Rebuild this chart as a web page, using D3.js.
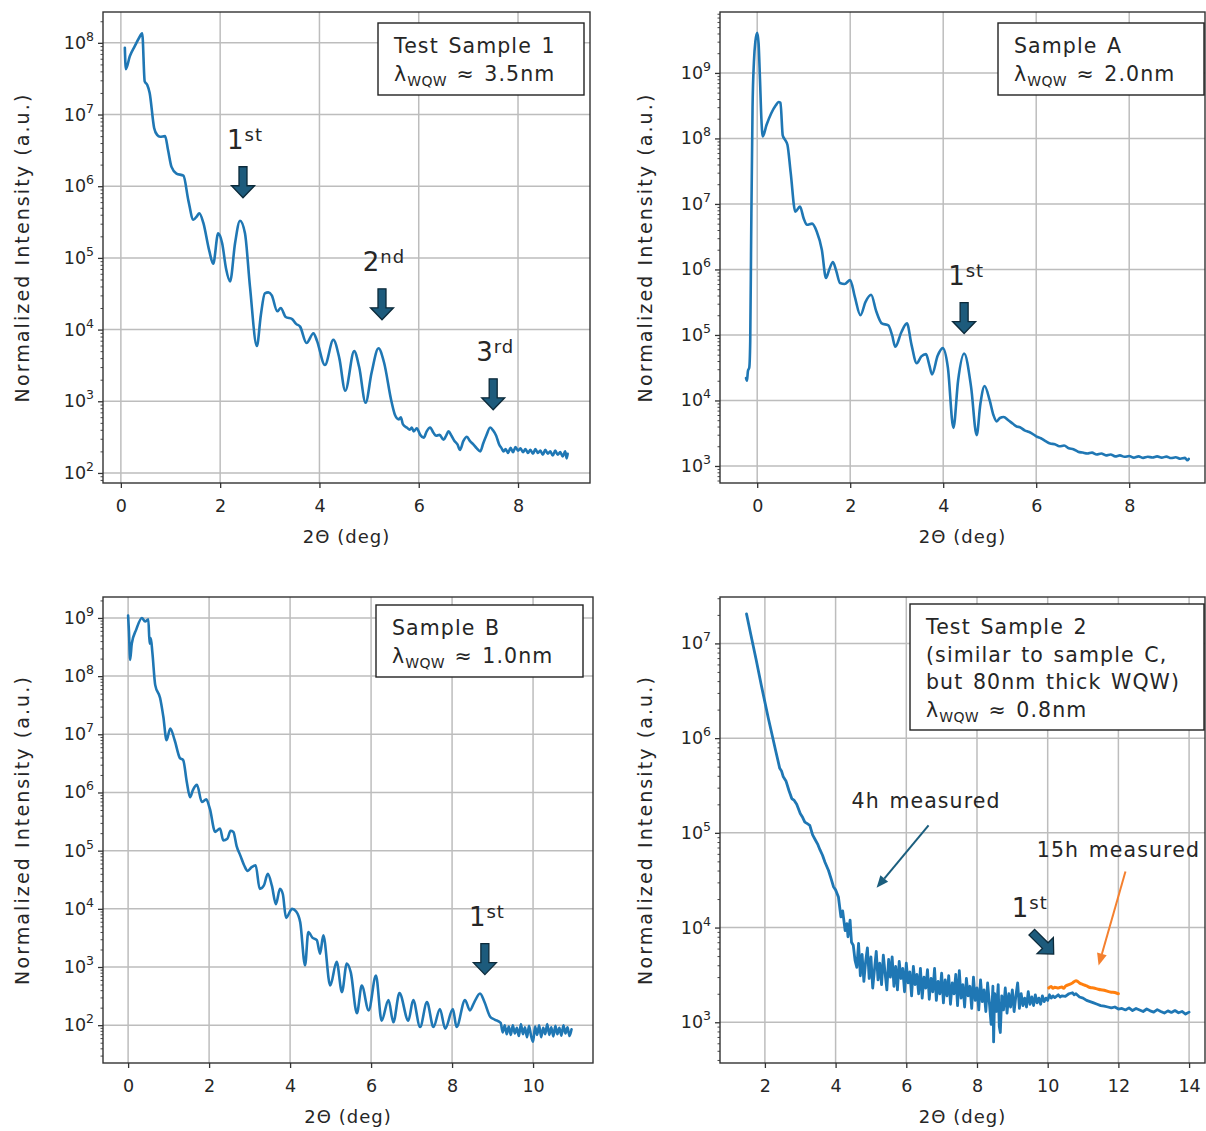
<!DOCTYPE html>
<html><head><meta charset="utf-8">
<script src="https://cdn.jsdelivr.net/npm/d3@7"></script>
<style>
body{margin:0;background:#fff}
svg{display:block}
text{font-family:"DejaVu Sans",sans-serif;fill:#262626}
</style></head>
<body><svg id="c" width="1206" height="1131"></svg>
<script>
// ---------------- DATA ----------------
// 2Θ (deg), normalized intensity (a.u.)
const testSample1 = [
[0.08,8.5e7],[0.10,4.3e7],[0.18,6.5e7],[0.28,9e7],[0.36,1.15e8],[0.43,1.36e8],[0.48,2.9e7],[0.53,2.6e7],[0.58,2.0e7],
[0.67,6.5e6],[0.73,5.2e6],[0.79,4.9e6],[0.89,5.0e6],[0.95,3.2e6],[1.02,1.86e6],[1.12,1.5e6],[1.26,1.4e6],[1.36,6.3e5],
[1.46,3.4e5],[1.53,3.8e5],[1.58,4.2e5],[1.66,3.1e5],[1.78,1.26e5],[1.86,8.3e4],[1.96,2.2e5],[2.04,1.6e5],[2.12,7e4],
[2.2,4.7e4],[2.3,1.6e5],[2.4,3.3e5],[2.5,2.2e5],[2.6,4e4],[2.74,5.9e3],[2.82,1.6e4],[2.9,3.2e4],[2.97,3.3e4],[3.04,3.0e4],
[3.15,1.8e4],[3.22,2.0e4],[3.32,1.5e4],[3.45,1.4e4],[3.53,1.2e4],[3.61,1.1e4],[3.74,6.5e3],[3.88,8.9e3],[3.95,7e3],
[4.11,3.2e3],[4.28,7.2e3],[4.4,4e3],[4.52,1.4e3],[4.7,5e3],[4.8,3e3],[4.93,955],[5.05,2.5e3],[5.19,5.5e3],[5.3,3.5e3],
[5.45,1e3],[5.52,650],[5.6,560],[5.64,600],[5.68,480],[5.76,430],[5.82,400],[5.86,430],[5.9,380],[5.96,420],[6.03,340],
[6.1,310],[6.16,380],[6.23,430],[6.3,360],[6.35,330],[6.42,340],[6.5,290],[6.55,330],[6.6,380],[6.66,330],[6.72,280],
[6.78,250],[6.83,210],[6.9,280],[6.97,320],[7.03,280],[7.1,250],[7.17,220],[7.24,200],[7.3,260],[7.36,330],[7.44,430],
[7.5,390],[7.56,330],[7.62,250],[7.67,220],[7.71,200],[7.75,215],[7.8,190],[7.85,225],[7.9,195],[7.95,230],[8.0,205],
[8.05,220],[8.1,195],[8.15,215],[8.2,190],[8.25,210],[8.3,185],[8.35,215],[8.4,190],[8.45,205],[8.5,180],[8.55,210],
[8.6,185],[8.65,200],[8.7,175],[8.75,205],[8.8,180],[8.85,195],[8.9,170],[8.95,200],[8.98,160],[9.0,185]
];
const sampleA = [
[-0.24,2.2e4],[-0.22,2.0e4],[-0.2,2.8e4],[-0.17,3.2e4],[-0.15,8e4],[-0.13,3e6],[-0.1,3e8],[-0.07,1.5e9],[-0.04,3e9],
[0.0,4.1e9],[0.03,2.8e9],[0.06,8e8],[0.09,2e8],[0.12,1.07e8],[0.2,1.6e8],[0.3,2.4e8],[0.4,3.2e8],[0.46,3.6e8],[0.5,3.5e8],
[0.55,1.1e8],[0.6,9.5e7],[0.65,8e7],[0.72,3e7],[0.82,7.6e6],[0.92,9.1e6],[1.0,6e6],[1.07,4.8e6],[1.18,5e6],[1.28,3.8e6],
[1.39,2e6],[1.48,7.4e5],[1.55,1e6],[1.63,1.3e6],[1.7,9.5e5],[1.78,6.2e5],[1.88,6e5],[2.0,6.9e5],[2.1,3.8e5],[2.22,2e5],
[2.33,3.2e5],[2.45,4.1e5],[2.56,2.3e5],[2.68,1.5e5],[2.82,1.4e5],[2.9,1e5],[2.97,6.6e4],[3.1,1.1e5],[3.22,1.5e5],
[3.32,7e4],[3.43,3.7e4],[3.53,4.7e4],[3.63,5.1e4],[3.7,3.5e4],[3.76,2.5e4],[3.88,4.8e4],[3.99,6.3e4],[4.1,3.2e4],
[4.22,3.8e3],[4.32,2e4],[4.45,5.2e4],[4.6,1.6e4],[4.72,2.95e3],[4.8,8.9e3],[4.89,1.66e4],[5.0,1e4],[5.08,6e3],
[5.15,4.8e3],[5.22,5.4e3],[5.3,5.6e3],[5.4,5000],[5.5,4400],[5.58,4000],[5.65,3900],[5.75,3500],[5.85,3300],[5.95,3000],
[6.01,2800],[6.1,2650],[6.2,2400],[6.3,2200],[6.4,2150],[6.5,2000],[6.6,2050],[6.7,1860],[6.8,1800],[6.9,1650],
[7.0,1600],[7.1,1550],[7.2,1600],[7.3,1500],[7.4,1550],[7.5,1450],[7.6,1500],[7.7,1400],[7.8,1450],[7.9,1380],
[8.0,1420],[8.1,1340],[8.2,1400],[8.3,1330],[8.4,1380],[8.5,1350],[8.6,1400],[8.7,1340],[8.8,1390],[8.9,1320],
[9.0,1360],[9.1,1290],[9.2,1330],[9.25,1220],[9.28,1280]
];
const sampleB = [
[0.0,1.1e9],[0.02,6e8],[0.05,1.9e8],[0.09,3.6e8],[0.2,6.3e8],[0.34,1e9],[0.42,8.7e8],[0.5,9.5e8],[0.53,3.6e8],[0.56,4.5e8],
[0.6,2.5e8],[0.67,7e7],[0.79,4.2e7],[0.87,2e7],[0.95,7.9e6],[1.04,1.26e7],[1.15,7.9e6],[1.28,3.9e6],[1.36,3.6e6],
[1.45,1.5e6],[1.53,8.3e5],[1.6,1.1e6],[1.7,1.35e6],[1.82,6.9e5],[1.93,7.6e5],[2.02,5.2e5],[2.15,2.1e5],[2.27,2.4e5],
[2.35,1.5e5],[2.45,1.6e5],[2.53,2.2e5],[2.6,2.1e5],[2.68,1.2e5],[2.77,8.3e4],[2.87,5.5e4],[2.95,4.5e4],[3.05,5.2e4],
[3.15,5.6e4],[3.25,2.2e4],[3.35,2.5e4],[3.45,4e4],[3.55,2.5e4],[3.65,1.2e4],[3.75,2.2e4],[3.82,1.8e4],[3.9,7e3],
[4.05,1e4],[4.15,9e3],[4.25,5.9e3],[4.37,1.07e3],[4.45,4e3],[4.55,3.2e3],[4.66,2.9e3],[4.74,1.7e3],[4.82,3.5e3],
[4.99,480],[5.15,1.23e3],[5.28,370],[5.4,1.15e3],[5.5,800],[5.65,160],[5.77,480],[5.94,180],[6.12,710],[6.26,120],
[6.43,270],[6.55,112],[6.7,355],[6.92,120],[7.04,270],[7.21,93],[7.38,250],[7.54,93],[7.7,190],[7.83,87],[8.02,190],
[8.11,93],[8.32,270],[8.44,180],[8.55,250],[8.69,350],[8.8,250],[8.94,140],[9.05,125],[9.2,110],[9.25,75],[9.3,100],
[9.35,70],[9.4,95],[9.45,68],[9.5,100],[9.55,72],[9.6,90],[9.65,65],[9.7,105],[9.75,70],[9.8,92],[9.85,62],[9.9,98],
[9.95,66],[10.0,52],[10.05,95],[10.1,68],[10.15,100],[10.2,62],[10.25,90],[10.3,70],[10.35,105],[10.4,68],[10.45,92],
[10.5,64],[10.55,98],[10.6,70],[10.65,90],[10.7,66],[10.75,100],[10.8,72],[10.85,92],[10.9,65],[10.95,85]
];
const testSample2_4h = [
[1.48,2.05e7],[1.6,1.25e7],[1.75,6.8e6],[1.9,3.6e6],[2.0,2.4e6],[2.1,1.6e6],[2.2,1.1e6],[2.3,7.5e5],[2.42,4.8e5],
[2.47,4.5e5],[2.52,3.9e5],[2.6,3.5e5],[2.68,2.8e5],[2.76,2.3e5],[2.83,2.2e5],[2.9,2.0e5],[3.0,1.6e5],[3.07,1.45e5],
[3.13,1.3e5],[3.2,1.25e5],[3.27,1.2e5],[3.35,9.5e4],[3.42,8.5e4],[3.5,7.5e4],[3.56,6.6e4],[3.63,5.8e4],[3.7,4.9e4],
[3.8,4e4],[3.87,3.3e4],[3.94,2.7e4],[4.0,2.5e4],[4.08,2.1e4],[4.15,1.3e4],[4.2,1.5e4],[4.27,9.3e3],[4.32,1.1e4],
[4.35,8e3],[4.41,1.2e4],[4.45,7e3],[4.5,6.5e3],[4.55,4.5e3],
[4.6,3800],[4.65,6800],[4.7,3100],[4.75,5200],[4.8,2700],[4.85,4400],[4.9,6100],[4.95,2900],[5.0,4900],[5.05,2300],
[5.1,3600],[5.15,5600],[5.2,2800],[5.25,4200],[5.3,2500],[5.35,5100],[5.4,3300],[5.45,2200],[5.5,4600],[5.55,3000],
[5.6,4900],[5.65,2400],[5.7,3900],[5.75,2200],[5.8,4400],[5.85,2900],[5.9,3700],[5.95,2100],[6.0,4200],[6.05,2600],
[6.1,3400],[6.15,1900],[6.2,3900],[6.25,2500],[6.3,3200],[6.35,2000],[6.4,3700],[6.45,1800],[6.5,3000],[6.55,2300],
[6.6,3600],[6.65,1750],[6.7,2900],[6.75,2100],[6.8,3700],[6.85,1700],[6.9,2700],[6.95,2000],[7.0,3300],[7.05,1600],
[7.1,2800],[7.15,1900],[7.2,3100],[7.25,1550],[7.3,2600],[7.35,2000],[7.4,3200],[7.45,1500],[7.5,3500],[7.55,1800],
[7.6,2500],[7.65,1450],[7.7,2900],[7.75,1900],[7.8,2400],[7.85,1400],[7.9,3000],[7.95,1700],[8.0,2300],[8.05,1350],
[8.1,2800],[8.15,1650],[8.2,2200],[8.25,1300],[8.3,2600],[8.35,1600],[8.4,950],[8.45,2400],[8.47,620],[8.5,2000],
[8.55,1300],[8.6,2500],[8.63,900],[8.66,780],[8.7,1900],[8.75,1350],[8.8,2300],[8.85,1250],[8.9,2000],[8.95,1450],
[9.0,2200],[9.05,1300],[9.1,1900],[9.15,2600],[9.2,1400],[9.25,2000],[9.3,1500],[9.35,1800],[9.4,1450],[9.45,2100],
[9.5,1550],[9.55,1850],[9.6,1500],[9.65,1950],[9.7,1600],[9.75,1800],[9.8,1550],[9.85,1900],[9.9,1650],[9.95,1800],
[10.0,1700],[10.05,1950],[10.1,1800],[10.15,1900],[10.2,1820],[10.3,1950],[10.35,1850],[10.4,1900],[10.5,1880],
[10.6,2000],[10.7,2050],[10.75,1950],[10.8,2000],[10.9,1850],[11.0,1800],[11.1,1700],[11.2,1650],[11.3,1600],
[11.4,1550],[11.5,1500],[11.6,1480],[11.7,1450],[11.8,1420],[11.9,1450],[12.0,1380],[12.1,1400],[12.2,1350],
[12.3,1420],[12.4,1330],[12.5,1400],[12.6,1350],[12.7,1300],[12.8,1380],[12.9,1320],[13.0,1280],[13.1,1360],
[13.2,1300],[13.3,1250],[13.4,1320],[13.5,1270],[13.6,1330],[13.7,1260],[13.8,1300],[13.9,1220],[14.0,1280]
];
const testSample2_15h = [
[10.03,2300],[10.1,2380],[10.15,2280],[10.2,2350],[10.3,2300],[10.4,2360],[10.45,2280],[10.5,2400],[10.6,2500],
[10.7,2600],[10.8,2750],[10.85,2700],[10.9,2600],[11.0,2500],[11.1,2420],[11.2,2330],[11.3,2300],[11.4,2250],
[11.5,2200],[11.6,2180],[11.7,2120],[11.8,2080],[11.9,2060],[12.0,2000]
];

// tick values
const xTicksTS1 = [0,2,4,6,8];
const xTicksA   = [0,2,4,6,8];
const xTicksB   = [0,2,4,6,8,10];
const xTicksTS2 = [2,4,6,8,10,12,14];
const yExpTS1 = [2,3,4,5,6,7,8];
const yExpA   = [3,4,5,6,7,8,9];
const yExpB   = [2,3,4,5,6,7,8,9];
const yExpTS2 = [3,4,5,6,7];

// legend texts
const legendTS1 = {lines:["Test Sample 1"], lambda:"3.5nm"};
const legendA   = {lines:["Sample A"], lambda:"2.0nm"};
const legendB   = {lines:["Sample B"], lambda:"1.0nm"};
const legendTS2 = {lines:["Test Sample 2","(similar to sample C,","but 80nm thick WQW)"], lambda:"0.8nm"};

// order peak markers: [label, suffix, 2Θ at tip, intensity at tip]
const peaksTS1 = [["1","st",2.46,6.9e5],["2","nd",5.26,1.37e4],["3","rd",7.5,760]];
const peaksA   = [["1","st",4.45,1.05e5]];
const peaksB   = [["1","st",8.81,740]];
const peaksTS2 = [["1","st",10.17,5250]];

// ---------------- DRAWING ----------------
const svg = d3.select('#c');
const BLUE = '#1f77b4', ORANGE = '#ff7f0e';
const ARROW_FILL = '#1d5b7c', ARROW_STROKE = '#0c2a3a';
const TXT = {'font-size':20.5,'letter-spacing':1.1,'word-spacing':2};
const SMOOTH = d3.curveMonotoneX, RAW = d3.curveLinear;

const panels = [
 {id:'a', box:[103,12,590,483], xd:[-0.36,9.45], yd:[Math.pow(10,1.86),Math.pow(10,8.43)], xt:xTicksTS1, ye:yExpTS1,
  series:[{d:testSample1,c:BLUE,w:2.6,cv:SMOOTH}], legend:legendTS1, lbox:[378,23,584,95], peaks:peaksTS1, ylabX:22},
 {id:'b', box:[720,12,1205,483], xd:[-0.8,9.63], yd:[Math.pow(10,2.74),Math.pow(10,9.93)], xt:xTicksA, ye:yExpA,
  series:[{d:sampleA,c:BLUE,w:2.6,cv:SMOOTH}], legend:legendA, lbox:[998,23,1204,95], peaks:peaksA, ylabX:645},
 {id:'c', box:[103,597,593,1063], xd:[-0.62,11.48], yd:[Math.pow(10,1.35),Math.pow(10,9.36)], xt:xTicksB, ye:yExpB,
  series:[{d:sampleB,c:BLUE,w:2.6,cv:SMOOTH}], legend:legendB, lbox:[376,605,583,677], peaks:peaksB, ylabX:22},
 {id:'d', box:[720,597,1205,1063], xd:[0.73,14.45], yd:[Math.pow(10,2.57),Math.pow(10,7.49)], xt:xTicksTS2, ye:yExpTS2,
  series:[{d:testSample2_4h,c:BLUE,w:2.8,cv:RAW},{d:testSample2_15h,c:ORANGE,w:3,cv:SMOOTH}], legend:legendTS2,
  lbox:[910,604,1204,730], peaks:peaksTS2, ylabX:645, diag:true}
];

function styleText(sel){ Object.entries(TXT).forEach(([k,v])=>sel.attr(k,v)); return sel; }
function blockArrow(g, tx, ty, ang){
  const pts = [[0,0],[-11.5,-12],[-4,-12],[-4,-31],[4,-31],[4,-12],[11.5,-12]];
  g.append('path').attr('d','M'+pts.map(p=>p.join(',')).join('L')+'Z')
   .attr('transform',`translate(${tx},${ty}) rotate(${ang})`)
   .attr('fill',ARROW_FILL).attr('stroke',ARROW_STROKE).attr('stroke-width',1.3).attr('stroke-linejoin','miter');
}
function ordLabel(g, cx, by, n, suf){
  const t = g.append('text').attr('x',cx).attr('y',by).attr('text-anchor','middle');
  t.append('tspan').attr('font-size',26).text(n);
  t.append('tspan').attr('font-size',18).attr('dy',-8).attr('dx',1).attr('letter-spacing',1).text(suf);
}
function thinArrow(g, x1,y1,x2,y2,col){
  const ang = Math.atan2(y2-y1,x2-x1), hl=12, hw=5;
  const bx = x2 - hl*Math.cos(ang), by = y2 - hl*Math.sin(ang);
  g.append('line').attr('x1',x1).attr('y1',y1).attr('x2',bx).attr('y2',by).attr('stroke',col).attr('stroke-width',2);
  const px = -Math.sin(ang)*hw, py = Math.cos(ang)*hw;
  g.append('path').attr('d',`M${x2},${y2}L${bx+px},${by+py}L${bx-px},${by-py}Z`).attr('fill',col);
}

panels.forEach(p=>{
  const [l,t,r,b] = p.box;
  const x = d3.scaleLinear().domain(p.xd).range([l,r]);
  const y = d3.scaleLog().domain(p.yd).range([b,t]);
  const g = svg.append('g');
  const majors = p.ye.map(e=>Math.pow(10,e));
  // grid
  g.selectAll(null).data(p.xt).join('line').attr('x1',d=>x(d)).attr('x2',d=>x(d)).attr('y1',t).attr('y2',b)
   .attr('stroke','#bdbdbd').attr('stroke-width',1.5);
  g.selectAll(null).data(majors).join('line').attr('y1',d=>y(d)).attr('y2',d=>y(d)).attr('x1',l).attr('x2',r)
   .attr('stroke','#bdbdbd').attr('stroke-width',1.5);
  // clip
  svg.append('clipPath').attr('id','clip'+p.id).append('rect').attr('x',l).attr('y',t).attr('width',r-l).attr('height',b-t);
  p.series.forEach(s=>{
    const line = d3.line().x(d=>x(d[0])).y(d=>y(d[1])).curve(s.cv);
    g.append('path').attr('d',line(s.d)).attr('fill','none').attr('stroke',s.c).attr('stroke-width',s.w)
     .attr('stroke-linejoin','round').attr('stroke-linecap','round').attr('clip-path',`url(#clip${p.id})`);
  });
  // spines
  g.append('rect').attr('x',l).attr('y',t).attr('width',r-l).attr('height',b-t).attr('fill','none')
   .attr('stroke','#333').attr('stroke-width',1.4);
  // x axis
  const xa = g.append('g').attr('transform',`translate(0,${b})`)
    .call(d3.axisBottom(x).tickValues(p.xt).tickSize(5).tickPadding(8).tickFormat(d3.format('d')));
  xa.select('.domain').remove();
  xa.attr('font-size',null).attr('font-family',null);
  xa.selectAll('line').attr('stroke','#333').attr('stroke-width',1.3);
  xa.selectAll('text').attr('font-size',17.5).attr('fill','#262626').attr('dy','0.9em');
  // y axis major ticks
  const ya = g.append('g').attr('transform',`translate(${l},0)`)
    .call(d3.axisLeft(y).tickValues(majors).tickSize(5).tickFormat(''));
  ya.select('.domain').remove();
  ya.selectAll('line').attr('stroke','#333').attr('stroke-width',1.3);
  // minor ticks
  const minors = [];
  const e0 = Math.floor(Math.log10(p.yd[0])), e1 = Math.ceil(Math.log10(p.yd[1]));
  for(let e=e0;e<=e1;e++) for(let k=2;k<=9;k++){const v=k*Math.pow(10,e); if(v>p.yd[0]&&v<p.yd[1]) minors.push(v);}
  const ym = g.append('g').attr('transform',`translate(${l},0)`)
    .call(d3.axisLeft(y).tickValues(minors).tickSize(2.5).tickFormat(''));
  ym.select('.domain').remove();
  ym.selectAll('line').attr('stroke','#333').attr('stroke-width',0.9);
  // y tick labels
  p.ye.forEach(e=>{
    const tx = g.append('text').attr('x',l-9).attr('y',y(Math.pow(10,e))+6).attr('text-anchor','end');
    tx.append('tspan').attr('font-size',17.5).text('10');
    tx.append('tspan').attr('font-size',12.5).attr('dy',-8).text(e);
  });
  // axis labels
  g.append('text').attr('x',(l+r)/2).attr('y',b+60).attr('text-anchor','middle').attr('font-size',18)
   .attr('letter-spacing',1).text('2Θ (deg)');
  g.append('text').attr('transform',`translate(${p.ylabX+7},${(t+b)/2}) rotate(-90)`).attr('text-anchor','middle')
   .attr('font-size',19).attr('letter-spacing',2.1).text('Normalized Intensity (a.u.)');
  // legend box
  const [bx0,by0,bx1,by1] = p.lbox;
  g.append('rect').attr('x',bx0).attr('y',by0).attr('width',bx1-bx0).attr('height',by1-by0).attr('fill','#fff')
   .attr('stroke','#222').attr('stroke-width',1.4);
  const lh = 27.7;
  p.legend.lines.forEach((s,i)=>{
    styleText(g.append('text').attr('x',bx0+16).attr('y',by0+30+i*lh)).text(s);
  });
  const lt = styleText(g.append('text').attr('x',bx0+16).attr('y',by0+30+p.legend.lines.length*lh));
  lt.append('tspan').text('λ');
  lt.append('tspan').attr('font-size',14).attr('dy',5).attr('letter-spacing',0.3).text('WQW');
  lt.append('tspan').attr('dy',-5).text(' ≈ '+p.legend.lambda);
  // peak markers
  p.peaks.forEach(pk=>{
    const tx = x(pk[2]), ty = y(pk[3]);
    if(p.diag){
      blockArrow(g, tx, ty, -45);
      ordLabel(g, tx-24, ty-37, pk[0], pk[1]);
    } else {
      blockArrow(g, tx, ty, 0);
      ordLabel(g, tx+2, ty-49, pk[0], pk[1]);
    }
  });
  if(p.diag){
    thinArrow(g, x(6.63), y(1.2e5), x(5.16), y(2.63e4), '#1b5e7e');
    thinArrow(g, x(12.2), y(3.9e4), x(11.44), y(3980), '#f4802f');
    styleText(g.append('text').attr('x',x(6.56)).attr('y',y(1.82e5)).attr('text-anchor','middle')).text('4h measured');
    styleText(g.append('text').attr('x',x(12.0)).attr('y',y(5.6e4)).attr('text-anchor','middle')).text('15h measured');
  }
});
</script>
</body></html>
